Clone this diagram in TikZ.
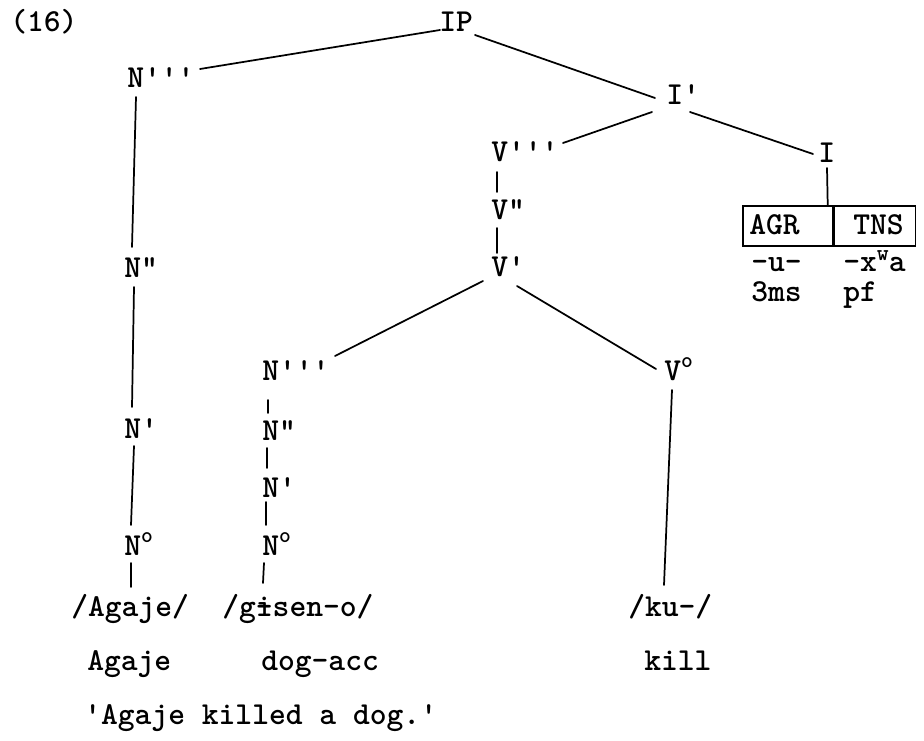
\documentclass[tikz,border=0pt]{standalone}
\usetikzlibrary{calc}
\newcommand\myq{\textquotesingle}
\newcommand\mydq{\textquotedbl}
\newcommand\myo{\textsuperscript{o}}
\begin{document}
\begin{tikzpicture}[x=0.75pt,y=-0.75pt,
  lab/.style={anchor=base west,inner sep=0pt,font=\fontsize{24}{28}\selectfont\ttfamily\bfseries},
  edge/.style={line width=1.3pt,line cap=round},
  partbox/.style={draw,line width=1.3pt,anchor=north west,minimum height=30pt,inner sep=0pt}]
\useasboundingbox[fill=white] (0,0) rectangle (924,741);
% labels
\node[lab] (ex) at (10,32) {(16)};
\node[lab] (IP) at (439,32) {IP};
\node[lab] (Nu3) at (127,88) {N\myq\myq\myq};
\node[lab] (I1) at (666,105) {I\myq};
\node[lab] (V3) at (491,162) {V\myq\myq\myq};
\node[lab] (I0) at (818,163) {I};
\node[lab] (V2) at (491,220) {V\mydq};
\node[lab] (V1) at (491,277) {V\myq};
\node[lab] (Nu2) at (124,278) {N\mydq};
\node[lab] (Nu1) at (124,438) {N\myq};
\node[lab] (Nu0) at (124,555) {N\myo};
\node[lab] (Nl3) at (262,380) {N\myq\myq\myq};
\node[lab] (Nl2) at (262,440) {N\mydq};
\node[lab] (Nl1) at (262,497) {N\myq};
\node[lab] (Nl0) at (262,555) {N\myo};
\node[lab] (V0) at (664,380) {V\myo};
\node[partbox,minimum width=67.5pt] (agrbox) at (742,205) {};
\node[partbox,minimum width=60.75pt] (tnsbox) at (agrbox.north east) {};
\node[lab] (agr) at (749,235) {AGR};
\node[lab] (tns) at (853,235) {TNS};
\node[lab] (u) at (751,272) {-u-};
\node[lab] (xwa) at (843,272) {-x\raisebox{0.35em}{\fontsize{17}{20}\selectfont w}a};
\node[lab] (ms) at (751,302) {3ms};
\node[lab] (pf) at (843,302) {pf};
\node[lab] (aga) at (71,616) {/Agaje/};
\node[lab] (gis) at (222,616) {/g\rlap{i}-sen-o/};
\node[lab] (ku) at (628,616) {/ku-/};
\node[lab] (agaG) at (87,670) {Agaje};
\node[lab] (dog) at (261,670) {dog-acc};
\node[lab] (kill) at (644,670) {kill};
\node[lab] (tr) at (84,724) {\myq Agaje killed a dog.\myq};
% edges
\draw[edge] ($(Nu3.base west)+(73,-19)$) -- ($(IP.base west)+(1,-2)$);
\draw[edge] ($(IP.base west)+(36,3)$) -- ($(I1.base west)+(-11,-7)$);
\draw[edge] ($(I1.base west)+(-14,7)$) -- ($(V3.base west)+(72,-19)$);
\draw[edge] ($(I1.base west)+(24,7)$) -- ($(I0.base west)+(-5,-9)$);
\draw[edge] ($(I0.base west)+(9,5)$) -- ($(agrbox.north east)+(-6,0)$);
\draw[edge] ($(V3.base west)+(6,10)$) -- ($(V2.base west)+(6,-28)$);
\draw[edge] ($(V2.base west)+(6,8)$) -- ($(V1.base west)+(6,-24)$);
\draw[edge] ($(V1.base west)+(-8,4)$) -- ($(Nl3.base west)+(73,-24)$);
\draw[edge] ($(V1.base west)+(26,9)$) -- ($(V0.base west)+(-8,-11)$);
\draw[edge] ($(V0.base west)+(8,10)$) -- ($(ku.base west)+(36,-31)$);
\draw[edge] ($(Nu3.base west)+(9,9)$) -- ($(Nu2.base west)+(8,-31)$);
\draw[edge] ($(Nu2.base west)+(10,9)$) -- ($(Nu1.base west)+(8,-31)$);
\draw[edge] ($(Nu1.base west)+(10,8)$) -- ($(Nu0.base west)+(7,-30)$);
\draw[edge] ($(Nu0.base west)+(7,8)$) -- ($(aga.base west)+(60,-29)$);
\draw[edge] ($(Nl3.base west)+(6,20)$) -- ($(Nl2.base west)+(6,-27)$);
\draw[edge] ($(Nl2.base west)+(5,8)$) -- ($(Nl1.base west)+(5,-29)$);
\draw[edge] ($(Nl1.base west)+(4,5)$) -- ($(Nl0.base west)+(4,-30)$);
\draw[edge] ($(Nl0.base west)+(2,8)$) -- ($(gis.base west)+(41,-33)$);
\end{tikzpicture}
\end{document}
